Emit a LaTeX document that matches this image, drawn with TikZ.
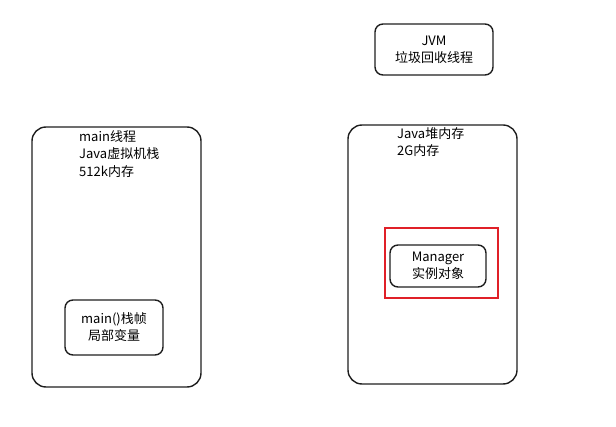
\documentclass[tikz,border=0pt]{standalone}
\usepackage{fontspec}
\usepackage{tikz}
\usepackage{xcolor}
\usetikzlibrary{positioning}
\setmainfont{Noto Sans CJK SC}
\definecolor{inkgray}{RGB}{30,30,30}
\definecolor{markred}{RGB}{224,32,40}

\begin{document}
\begin{tikzpicture}[x=1pt, y=-1pt,
		region/.style={draw=inkgray, line width=1.4pt, rounded corners=14pt, inner sep=0pt},
		item/.style={draw=inkgray, line width=1.4pt, rounded corners=8pt, align=center,
			font=\fontsize{13}{17}\selectfont, inner sep=0pt},
		caption/.style={anchor=north west, align=left, inner sep=0pt,
			font=\fontsize{13}{17.5}\selectfont},
		highlight/.style={draw=markred, line width=1.6pt, inner sep=0pt}
	]
		\useasboundingbox (0,0) rectangle (616,427);
		% thread stack
		\node[region, minimum width=169pt, minimum height=260pt] (stack) at (116.5,257) {};
		\node[caption] (stacktxt) at (79,130) {main线程\\Java虚拟机栈\\512k内存};
		\node[item, minimum width=98pt, minimum height=55pt] (frame) at (114,327.5) {main()栈帧\\局部变量};
		% gc thread
		\node[item, minimum width=118pt, minimum height=51pt] (gc) at (434,49.5) {JVM\\垃圾回收线程};
		% heap
		\node[region, minimum width=169pt, minimum height=259pt] (heap) at (432.5,254.5) {};
		\node[caption] (heaptxt) at (397,127) {Java堆内存\\2G内存};
		\node[highlight, minimum width=113pt, minimum height=70pt] (mark) at (441.5,263) {};
		\node[item, minimum width=96pt, minimum height=42pt] (mgr) at (438,266) {Manager\\实例对象};
	\end{tikzpicture}
\end{document}
